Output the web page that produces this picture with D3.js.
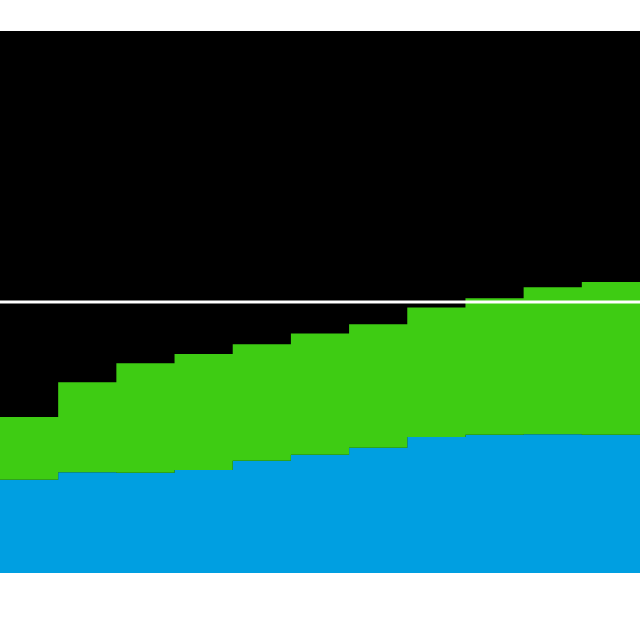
<!DOCTYPE html>
<html>
<head>
<meta charset="utf-8">
<script src="https://cdn.jsdelivr.net/npm/d3@7"></script>
<style>
  html, body { margin: 0; padding: 0; background: #fff; }
</style>
</head>
<body>
<div id="chart"></div>
<script>
// data (scale 0-100, reference line at 50)
var periods = ["1", "2", "3", "4", "5", "6", "7", "8", "9", "10", "11"];
var blueValues  = [17.2, 18.6, 18.5, 19.0, 20.7, 21.8, 23.1, 25.1, 25.5, 25.6, 25.5];
var greenValues = [11.6, 16.6, 20.2, 21.4, 21.5, 22.4, 22.8, 23.9, 25.2, 27.1, 28.2];
var yDomain = [0, 100];
var refValue = 50;

var margin = {top: 31, right: 0, bottom: 67, left: 0},
    width = 640 - margin.left - margin.right,
    height = 640 - margin.top - margin.bottom;

var svg = d3.select("#chart")
  .append("svg")
    .attr("width", width + margin.left + margin.right)
    .attr("height", height + margin.top + margin.bottom)
  .append("g")
    .attr("transform", "translate(" + margin.left + "," + margin.top + ")");

// black plot background
svg.append("rect")
  .attr("width", width)
  .attr("height", height)
  .attr("fill", "#000");

var rows = periods.map(function(p, i) {
  return {period: p, idx: i, blue: blueValues[i], green: greenValues[i]};
});
// step-after needs a closing point at the right edge
var last = rows[rows.length - 1];
var stepRows = rows.concat([{period: "end", idx: rows.length, blue: last.blue, green: last.green}]);

var series = d3.stack().keys(["blue", "green"])(stepRows);

var x = d3.scaleLinear()
  .domain([0, periods.length])
  .range([0, width]);

var y = d3.scaleLinear()
  .domain(yDomain)
  .range([height, 0]);

var colors = {blue: "#009fe1", green: "#3ecc13"};

var area = d3.area()
  .curve(d3.curveStepAfter)
  .x(function(d) { return x(d.data.idx); })
  .y0(function(d) { return y(d[0]); })
  .y1(function(d) { return y(d[1]); });

svg.selectAll("path.layer")
  .data(series)
  .enter()
  .append("path")
    .attr("class", "layer")
    .attr("d", area)
    .attr("fill", function(d) { return colors[d.key]; });

// reference line
svg.append("line")
  .attr("x1", 0)
  .attr("x2", width)
  .attr("y1", y(refValue))
  .attr("y2", y(refValue))
  .attr("stroke", "#fff")
  .attr("stroke-width", 3);
</script>
</body>
</html>
